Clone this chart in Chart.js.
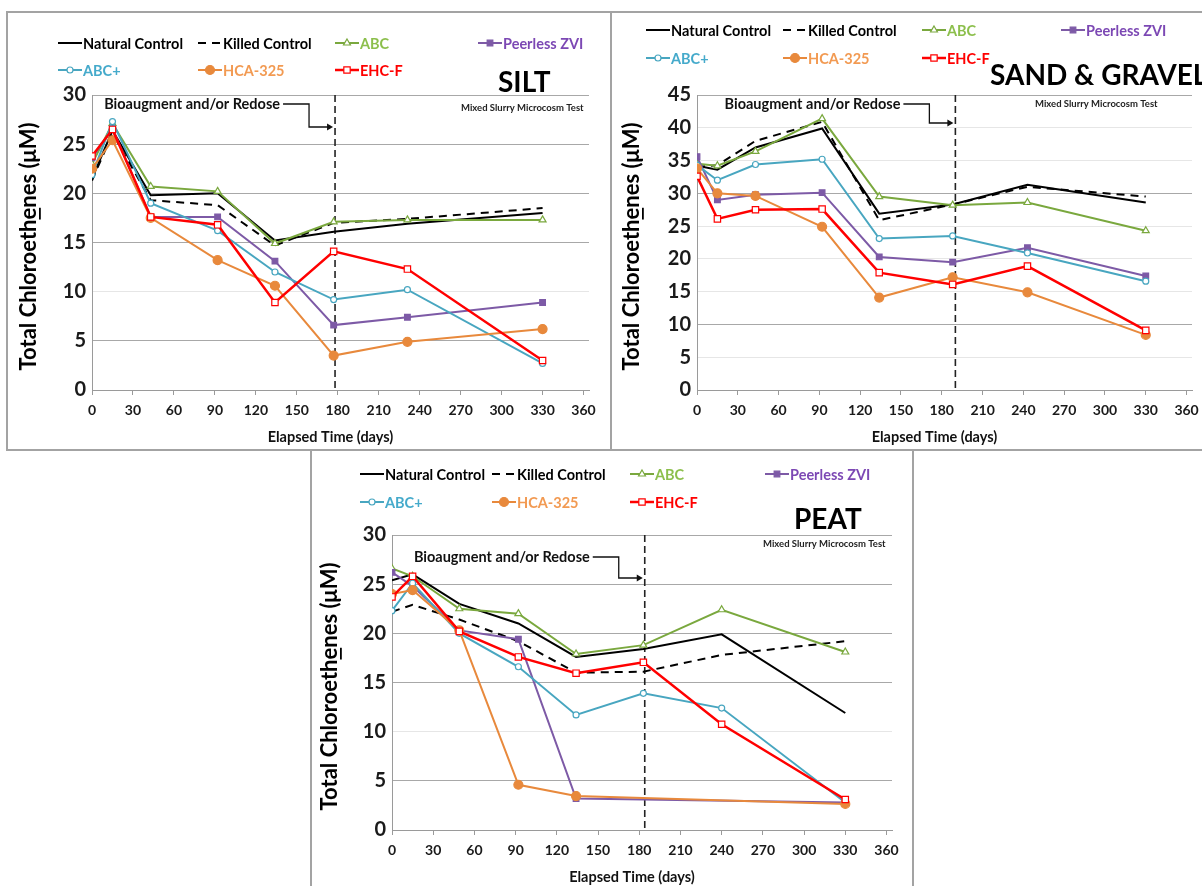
<!DOCTYPE html>
<html>
<head>
<meta charset="utf-8">
<title>Total Chloroethenes – Mixed Slurry Microcosm Test</title>
<script src="https://cdn.jsdelivr.net/npm/chart.js@4.4.0/dist/chart.umd.min.js"></script>
<style>
  html,body{margin:0;padding:0;background:#fff;overflow:hidden;}
  body{width:1202px;height:886px;position:relative;}
  .panel{position:absolute;border:2px solid #a3a3a3;background:#fff;}
  .panel canvas{display:block;}
</style>
</head>
<body>
<div class="panel" style="left:6px;top:11px;width:602px;height:436px"><canvas id="c-silt" width="602" height="436"></canvas></div>
<div class="panel" style="left:610px;top:11px;width:600px;height:436px"><canvas id="c-sand" width="600" height="436"></canvas></div>
<div class="panel" style="left:310px;top:449px;width:600px;height:440px"><canvas id="c-peat" width="600" height="440"></canvas></div>
<script>
// series names (legend order, also draw order: last one on top)
const seriesLabels = ['Natural Control','Killed Control','ABC','Peerless ZVI','ABC+','HCA-325','EHC-F'];
const xTicks = [0,30,60,90,120,150,180,210,240,270,300,330,360];

// SILT
const siltDays     = [0, 15, 43, 92, 134, 177, 231, 330];
const siltNatural  = [21.5, 26.4, 19.8, 20.0, 15.2, 16.1, 16.9, 18.0];
const siltKilled   = [21.3, 26.1, 19.3, 18.8, 14.7, 17.0, 17.4, 18.5];
const siltAbc      = [23.0, 27.1, 20.7, 20.2, 14.9, 17.1, 17.3, 17.3];
const siltZvi      = [23.6, 26.6, 17.6, 17.6, 13.1, 6.6, 7.4, 8.9];
const siltAbcPlus  = [21.9, 27.3, 19.0, 16.2, 12.0, 9.2, 10.2, 2.7];
const siltHca      = [22.5, 25.4, 17.5, 13.2, 10.6, 3.5, 4.9, 6.2];
const siltEhc      = [23.8, 26.5, 17.6, 16.8, 8.9, 14.1, 12.3, 3.0];

// SAND & GRAVEL
const sandDays     = [0, 15, 43, 92, 134, 188, 243, 330];
const sandNatural  = [34.2, 33.6, 37.0, 39.9, 26.9, 28.3, 31.3, 28.6];
const sandKilled   = [34.0, 34.3, 38.0, 40.9, 25.9, 28.3, 31.0, 29.5];
const sandAbc      = [34.5, 34.2, 36.4, 41.4, 29.5, 28.2, 28.6, 24.3];
const sandZvi      = [35.6, 29.0, 29.8, 30.1, 20.3, 19.5, 21.7, 17.4];
const sandAbcPlus  = [34.3, 32.0, 34.4, 35.2, 23.1, 23.5, 20.9, 16.6];
const sandHca      = [33.8, 30.0, 29.6, 24.9, 14.1, 17.2, 14.9, 8.4];
const sandEhc      = [32.6, 26.1, 27.5, 27.6, 17.9, 16.1, 18.9, 9.1];

// PEAT
const peatDays     = [0, 15, 49, 92, 134, 183, 240, 330];
const peatNatural  = [25.4, 26.0, 23.0, 21.0, 17.6, 18.4, 19.9, 11.9];
const peatKilled   = [22.2, 22.9, 21.4, 19.2, 16.0, 16.1, 17.8, 19.2];
const peatAbc      = [26.6, 25.8, 22.5, 22.0, 17.9, 18.8, 22.4, 18.1];
const peatZvi      = [26.2, 24.8, 20.3, 19.4, 3.2, null, null, 2.8];
const peatAbcPlus  = [22.3, 25.1, 20.0, 16.6, 11.7, 13.9, 12.4, 2.8];
const peatHca      = [24.0, 24.4, 20.3, 4.6, 3.45, null, null, 2.65];
const peatEhc      = [23.7, 25.8, 20.2, 17.6, 15.95, 17.05, 10.75, 3.1];

const FONT = 'Lato, "Open Sans", sans-serif';

const seriesStyles = [
  {color:'#000000', text:'#000000', width:2,   dash:[],    style:'circle',   radius:0,   fill:'#000000'},
  {color:'#000000', text:'#000000', width:2,   dash:[8,6], style:'circle',   radius:0,   fill:'#000000'},
  {color:'#7aa83e', text:'#8cbf4c', width:2,   dash:[],    style:'triangle', radius:4,   fill:'#ffffff'},
  {color:'#7d5aa6', text:'#7c48b4', width:2,   dash:[],    style:'rect',     radius:4,   fill:'#7d5aa6'},
  {color:'#48a6c0', text:'#45aacb', width:2,   dash:[],    style:'circle',   radius:3,   fill:'#ffffff'},
  {color:'#e8893c', text:'#f29a52', width:2,   dash:[],    style:'circle',   radius:4.5, fill:'#e8893c'},
  {color:'#ff0000', text:'#ff0000', width:2.5, dash:[],    style:'rect',     radius:4.5, fill:'#ffffff'},
];

function makeDatasets(days, series){
  return series.map((vals, i) => {
    const s = seriesStyles[i];
    return {
      label: seriesLabels[i],
      data: days.map((d, j) => ({x: d, y: vals[j]})),
      borderColor: s.color, borderWidth: s.width, borderDash: s.dash,
      pointStyle: s.style, pointRadius: s.radius, pointHoverRadius: s.radius,
      pointBackgroundColor: s.fill, pointBorderColor: s.color, pointBorderWidth: 1.2,
      legendColor: s.text,
      tension: 0, spanGaps: true, fill: false,
      order: seriesLabels.length - i
    };
  });
}

function drawSample(ctx, ds, x, y){
  ctx.save();
  ctx.strokeStyle = ds.borderColor; ctx.lineWidth = ds.borderWidth;
  ctx.setLineDash(ds.borderDash);
  ctx.beginPath(); ctx.moveTo(x, y); ctx.lineTo(x + 24, y); ctx.stroke();
  ctx.setLineDash([]);
  if(ds.pointRadius > 0){
    ctx.fillStyle = ds.pointBackgroundColor; ctx.strokeStyle = ds.pointBorderColor;
    ctx.lineWidth = ds.pointBorderWidth;
    Chart.helpers.drawPoint(ctx, {pointStyle: ds.pointStyle, radius: ds.pointRadius, borderWidth: ds.pointBorderWidth, rotation: 0}, x + 12, y);
  }
  ctx.font = 'bold 14.5px ' + FONT;
  ctx.fillStyle = ds.legendColor; ctx.textBaseline = 'middle'; ctx.textAlign = 'left';
  ctx.fillText(ds.label, x + 25, y + 1);
  ctx.restore();
}

// dashed redose marker, callout, titles and legend
const panelDecor = {
  id: 'panelDecor',
  beforeDatasetsDraw(chart, args, o){
    const {ctx, chartArea: a} = chart;
    const xp = chart.scales.x.getPixelForValue(o.noteDay);
    ctx.save();
    ctx.strokeStyle = '#222'; ctx.lineWidth = 1.6; ctx.setLineDash([7,4]);
    ctx.beginPath(); ctx.moveTo(xp, a.top); ctx.lineTo(xp, a.bottom); ctx.stroke();
    ctx.setLineDash([]);
    const ty = a.top + o.noteDy;
    ctx.font = 'bold 14.5px ' + FONT; ctx.fillStyle = '#111';
    ctx.textAlign = 'right'; ctx.textBaseline = 'middle';
    ctx.fillText('Bioaugment and/or Redose', xp - 55, ty);
    ctx.lineWidth = 1.3; ctx.strokeStyle = '#111';
    ctx.beginPath();
    ctx.moveTo(xp - 52, ty); ctx.lineTo(xp - 26, ty);
    ctx.lineTo(xp - 26, ty + o.noteDrop); ctx.lineTo(xp - 7, ty + o.noteDrop);
    ctx.stroke();
    ctx.beginPath();
    ctx.moveTo(xp - 2, ty + o.noteDrop); ctx.lineTo(xp - 8, ty + o.noteDrop - 3.5); ctx.lineTo(xp - 8, ty + o.noteDrop + 3.5);
    ctx.closePath(); ctx.fill();
    ctx.restore();
  },
  afterDraw(chart, args, o){
    const {ctx, chartArea: a} = chart;
    ctx.save();
    // legend: 4 columns x 2 rows
    chart.data.datasets.forEach((ds, i) => {
      const row = i < 4 ? 0 : 1, col = i < 4 ? i : i - 4;
      drawSample(ctx, ds, o.legendCols[col], o.legendRows[row]);
    });
    // panel title and subtitle
    ctx.fillStyle = '#000'; ctx.textAlign = 'left'; ctx.textBaseline = 'middle';
    ctx.font = 'bold 28px ' + FONT;
    ctx.fillText(o.title, o.titleX, o.titleY);
    ctx.font = 'bold 9.5px ' + FONT; ctx.fillStyle = '#222';
    ctx.fillText('Mixed Slurry Microcosm Test', o.subX, o.subY);
    // x axis title
    ctx.font = 'bold 14.5px ' + FONT; ctx.fillStyle = '#111'; ctx.textAlign = 'center';
    ctx.fillText('Elapsed Time (days)', (a.left + a.right) / 2 - 10, a.bottom + 47);
    // y axis title, with the stray underline under one "e"
    const yt = 'Total Chloroethenes (\u03bcM)';
    ctx.font = 'bold 22px ' + FONT; ctx.fillStyle = '#000';
    ctx.translate(o.yTitleX, (a.top + a.bottom) / 2 + 4);
    ctx.rotate(-Math.PI / 2);
    ctx.textAlign = 'left';
    const w = ctx.measureText(yt).width;
    ctx.fillText(yt, -w / 2, 0);
    const pre = ctx.measureText('Total Chloroeth').width, ew = ctx.measureText('e').width;
    ctx.fillRect(-w / 2 + pre, 10, ew, 1.8);
    ctx.restore();
  }
};

function buildPanel(id, days, series, yMax, strongGrid, area, decor){
  const cv = document.getElementById(id);
  const W = cv.width, H = cv.height;
  return new Chart(cv, {
    type: 'line',
    data: { datasets: makeDatasets(days, series) },
    plugins: [panelDecor],
    options: {
      responsive: false, animation: false, devicePixelRatio: 1,
      layout: { padding: { left: area.left - 40, top: area.top, right: W - area.right, bottom: H - area.bottom - 25 } },
      plugins: { legend: { display: false }, tooltip: { enabled: false }, panelDecor: decor },
      scales: {
        x: {
          type: 'linear', min: 0, max: 364,
          afterBuildTicks: (s) => { s.ticks = xTicks.map(v => ({value: v})); },
          afterFit: (s) => { s.height = 25; },
          ticks: { autoSkip: false, maxRotation: 0, padding: 7, color: '#1a1a1a', font: { family: FONT, weight: 'bold', size: 14 } },
          grid: { drawOnChartArea: false, drawTicks: true, tickLength: 5, color: '#9a9a9a' },
          border: { color: '#9a9a9a', width: 1 }
        },
        y: {
          min: 0, max: yMax,
          afterFit: (s) => { s.width = 40; },
          ticks: { stepSize: 5, padding: 6, color: '#1a1a1a', font: { family: FONT, weight: 'bold', size: 20 } },
          grid: { drawTicks: false, lineWidth: 1, color: (c) => strongGrid.includes(c.tick.value) ? '#a8a8a8' : '#e6e6e6' },
          border: { color: '#9a9a9a', width: 1 }
        }
      }
    }
  });
}

buildPanel('c-silt', siltDays,
  [siltNatural, siltKilled, siltAbc, siltZvi, siltAbcPlus, siltHca, siltEhc],
  30, [0, 5, 15, 20, 25, 30],
  { left: 84, top: 82, right: 581, bottom: 377 },
  { title: 'SILT', titleX: 490, titleY: 70, subX: 453, subY: 95, yTitleX: 21,
    legendCols: [50, 190, 327, 470], legendRows: [30, 57],
    noteDay: 178, noteDy: 9, noteDrop: 23 });

buildPanel('c-sand', sandDays,
  [sandNatural, sandKilled, sandAbc, sandZvi, sandAbcPlus, sandHca, sandEhc],
  45, [0, 10, 30, 45],
  { left: 85, top: 82, right: 580, bottom: 377 },
  { title: 'SAND & GRAVEL', titleX: 378, titleY: 63, subX: 423, subY: 91, yTitleX: 20,
    legendCols: [34, 171, 310, 449], legendRows: [17, 45],
    noteDay: 190, noteDy: 9, noteDrop: 19 });

buildPanel('c-peat', peatDays,
  [peatNatural, peatKilled, peatAbc, peatZvi, peatAbcPlus, peatHca, peatEhc],
  30, [0, 5, 15, 20, 25, 30],
  { left: 80, top: 84, right: 580, bottom: 379 },
  { title: 'PEAT', titleX: 482, titleY: 69, subX: 451, subY: 93, yTitleX: 18,
    legendCols: [48, 180, 318, 453], legendRows: [23, 51],
    noteDay: 184, noteDy: 22, noteDrop: 21 });
</script>
</body>
</html>
